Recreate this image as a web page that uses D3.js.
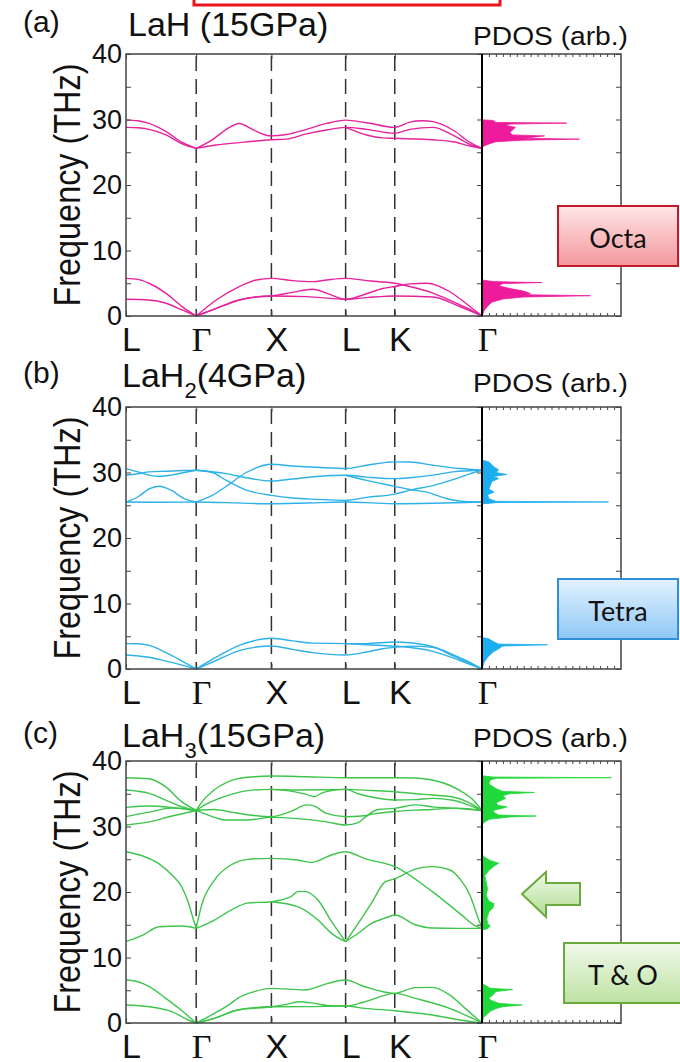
<!DOCTYPE html>
<html lang="en">
<head>
<meta charset="UTF-8">
<title>Phonon bands LaH / LaH2 / LaH3</title>
<style>
  body { margin: 0; background: #fff; }
  svg text { font-family: "Liberation Sans", Arial, sans-serif; fill: #111; }
</style>
</head>
<body>
<div id="chart"></div>
<script src="https://d3js.org/d3.v7.min.js"></script>
<script>
// ---- data ----
var kTicks = [0, 0.70, 1.45, 2.19, 2.68, 3.55];
var kLabels = ["L", "Γ", "X", "L", "K", "Γ"];
var freqTicks = [0, 10, 20, 30, 40];
var panelLetters = ["(a)", "(b)", "(c)"];
var titleMain = ["LaH", "LaH", "LaH"];
var titleSub = ["", "2", "3"];
var titleRest = [" (15GPa)", "(4GPa)", "(15GPa)"];
var siteLabels = ["Octa", "Tetra", "T & O"];

// phonon branches, [k, THz]
var bandsA = [
  [[0,29.9],[0.12,29.8],[0.23,29.4],[0.40,28.15],[0.56,26.5],[0.70,25.6]],
  [[0,28.8],[0.12,28.75],[0.23,28.5],[0.40,27.64],[0.56,26.3],[0.70,25.6]],
  [[0.70,25.6],[0.86,26.9],[1.00,28.5],[1.13,29.4],[1.26,28.5],[1.40,27.6],[1.45,27.5],[1.60,27.7],[1.80,28.5],[2.00,29.4],[2.19,29.9],[2.40,29.5],[2.68,28.8],[2.83,29.6],[2.95,29.8],[3.06,29.67],[3.26,28.4],[3.43,26.5],[3.55,25.6]],
  [[0.70,25.6],[0.90,26.1],[1.13,26.47],[1.45,26.9],[1.60,27.0],[1.80,27.8],[2.00,28.4],[2.19,28.8],[2.40,28.5],[2.68,27.9],[2.83,28.5],[3.06,28.8],[3.26,27.6],[3.43,26.2],[3.55,25.6]],
  [[2.19,28.8],[2.40,27.64],[2.56,27.2],[2.68,27.13],[3.06,26.9],[3.26,26.6],[3.43,25.96],[3.55,25.6]],
  [[0,5.75],[0.12,5.6],[0.23,5.0],[0.40,3.46],[0.56,1.43],[0.70,0]],
  [[0,2.55],[0.23,2.45],[0.40,1.94],[0.56,0.92],[0.70,0]],
  [[0.70,0],[0.90,2.45],[1.13,4.48],[1.30,5.5],[1.45,5.75],[1.66,5.4],[1.86,5.25],[2.00,5.5],[2.19,5.75],[2.40,5.4],[2.68,5.0],[2.83,4.5],[3.06,3.5],[3.26,2.2],[3.43,1.0],[3.55,0]],
  [[0.70,0],[0.90,1.17],[1.13,2.45],[1.30,2.9],[1.45,3.06],[1.66,3.6],[1.86,4.08],[2.00,3.5],[2.19,2.55],[2.40,3.4],[2.56,4.2],[2.68,4.5],[2.83,4.9],[3.00,5.0],[3.23,3.7],[3.40,1.8],[3.55,0]],
  [[0.70,0],[0.90,1.17],[1.13,2.45],[1.45,3.06],[1.80,2.96],[2.19,2.55],[2.40,2.8],[2.68,3.06],[3.06,2.9],[3.33,1.45],[3.55,0]]
];

var bandsB = [
  [[0,30.6],[0.12,30.1],[0.23,29.6],[0.33,29.4],[0.45,29.6],[0.58,30.0],[0.70,30.34]],
  [[0,29.58],[0.12,29.8],[0.23,30.1],[0.40,30.2],[0.56,30.3],[0.70,30.34]],
  [[0,25.49],[0.12,26.3],[0.23,27.5],[0.33,27.9],[0.45,27.3],[0.58,26.0],[0.70,25.49]],
  [[0,25.49],[0.35,25.45],[0.70,25.49]],
  [[0.70,25.49],[0.86,26.5],[1.00,27.9],[1.20,30.0],[1.45,31.26],[1.66,31.0],[1.90,30.8],[2.19,30.6],[2.40,31.1],[2.60,31.55],[2.68,31.62],[2.83,31.6],[3.06,31.1],[3.33,30.6],[3.55,30.34]],
  [[0.70,30.34],[0.86,30.0],[1.00,28.8],[1.20,27.3],[1.45,26.51],[1.66,26.1],[1.90,25.9],[2.19,25.74],[2.40,26.2],[2.68,26.7],[2.83,27.3],[3.06,28.0],[3.26,28.9],[3.43,29.8],[3.55,30.34]],
  [[0.70,30.34],[1.00,29.83],[1.20,29.2],[1.45,28.7],[1.66,29.0],[1.90,29.4],[2.19,29.58],[2.40,29.3],[2.68,29.06],[2.83,29.2],[3.06,29.6],[3.26,30.1],[3.55,30.34]],
  [[2.19,29.58],[2.40,28.8],[2.68,27.89],[2.83,27.4],[3.00,27.0],[3.20,26.0],[3.40,25.55],[3.55,25.49]],
  [[0.70,25.49],[1.00,25.4],[1.45,25.23],[1.80,25.35],[2.19,25.49],[2.40,25.4],[2.68,25.23],[3.06,25.3],[3.55,25.49]],
  [[0,3.88],[0.12,3.85],[0.23,3.6],[0.40,2.5],[0.56,1.2],[0.70,0]],
  [[0,2.14],[0.12,2.0],[0.23,1.8],[0.40,1.2],[0.56,0.6],[0.70,0]],
  [[0.70,0],[0.90,1.8],[1.13,3.6],[1.30,4.4],[1.45,4.70],[1.66,4.3],[1.86,3.95],[2.19,3.88],[2.40,3.88],[2.68,4.13],[2.83,4.0],[3.06,3.4],[3.26,2.2],[3.43,1.0],[3.55,0]],
  [[0.70,0],[0.90,1.3],[1.13,2.8],[1.30,3.35],[1.45,3.52],[1.66,3.0],[1.86,2.5],[2.19,2.14],[2.40,2.6],[2.56,3.1],[2.68,3.3],[2.83,3.5],[3.06,3.3],[3.26,2.0],[3.43,0.9],[3.55,0]],
  [[2.19,3.88],[2.40,3.7],[2.68,3.5],[3.06,2.7],[3.33,1.3],[3.55,0]]
];

var bandsC = [
  [[0,37.45],[0.232,37.3],[0.394,36.08],[0.555,33.79],[0.70,32.45]],
  [[0,35.57],[0.232,35.06],[0.394,34.04],[0.555,33.02],[0.70,32.45]],
  [[0,31.5],[0.232,32.2],[0.458,32.8],[0.70,32.45]],
  [[0,32.92],[0.232,33.13],[0.458,32.9],[0.70,32.45]],
  [[0,30.23],[0.232,30.7],[0.458,31.6],[0.70,32.45]],
  [[0.70,32.45],[0.75,33.6],[0.882,35.6],[1.00,36.7],[1.113,37.3],[1.278,37.6],[1.45,37.71],[1.80,37.6],[2.19,37.45],[2.45,37.45],[2.68,37.45],[2.885,37.4],[3.055,37.1],[3.226,36.3],[3.328,35.5],[3.465,34.0],[3.55,32.45]],
  [[0.70,32.45],[0.80,33.4],[0.981,34.55],[1.212,35.47],[1.45,35.67],[1.712,35.57],[2.00,35.6],[2.19,35.67],[2.45,35.5],[2.68,35.31],[2.885,35.0],[3.055,34.8],[3.26,34.5],[3.40,33.8],[3.55,32.45]],
  [[1.45,35.67],[1.645,35.4],[1.80,34.9],[1.88,34.55],[1.95,35.1],[2.05,35.5],[2.19,35.67],[2.316,35.0],[2.448,34.5],[2.68,34.04],[2.885,34.1],[3.055,34.3],[3.26,34.0],[3.43,33.2],[3.55,32.45]],
  [[0.70,32.45],[0.882,32.6],[1.047,32.2],[1.212,31.8],[1.45,31.5],[1.645,32.3],[1.80,33.3],[1.88,33.1],[2.00,32.0],[2.19,31.5],[2.35,31.6],[2.50,32.0],[2.68,32.3],[2.885,32.5],[3.055,32.6],[3.30,32.8],[3.55,32.45]],
  [[0.70,32.45],[0.882,31.4],[0.981,31.0],[1.212,31.0],[1.45,31.4],[1.712,31.2],[2.00,30.7],[2.19,30.23],[2.316,30.6],[2.382,31.4],[2.514,32.6],[2.68,32.77],[2.885,33.3],[3.055,33.0],[3.26,32.8],[3.55,32.45]],
  [[0,26.15],[0.168,25.5],[0.329,24.3],[0.458,22.6],[0.555,20.8],[0.619,18.5],[0.668,16.0],[0.70,14.45]],
  [[0,12.41],[0.168,13.4],[0.329,14.7],[0.555,14.8],[0.70,14.45]],
  [[0.70,14.45],[0.75,17.76],[0.882,21.83],[1.047,24.12],[1.212,24.98],[1.45,25.14],[1.712,24.88],[1.847,24.53],[2.049,25.65],[2.19,26.15],[2.382,25.1],[2.68,23.87],[3.055,20.05],[3.328,16.74],[3.499,14.7],[3.55,14.45]],
  [[0.70,14.45],[0.882,15.72],[1.047,17.25],[1.212,18.3],[1.45,18.52],[1.645,19.28],[1.712,20.05],[1.78,20.1],[1.914,18.78],[2.049,15.5],[2.19,12.41]],
  [[1.45,18.52],[1.712,17.76],[1.914,15.72],[2.049,13.69],[2.19,12.41]],
  [[2.19,12.41],[2.316,15.2],[2.448,18.3],[2.581,21.5],[2.68,22.0],[2.885,23.5],[3.055,23.87],[3.226,23.4],[3.33,22.0],[3.43,19.5],[3.50,16.5],[3.55,14.45]],
  [[2.19,12.41],[2.316,13.7],[2.448,15.2],[2.581,16.0],[2.68,16.49],[2.885,15.0],[3.055,14.5],[3.30,14.45],[3.55,14.45]],
  [[0,6.56],[0.12,6.3],[0.232,5.54],[0.394,3.8],[0.555,1.9],[0.70,0]],
  [[0,2.75],[0.232,2.49],[0.458,1.73],[0.619,0.46],[0.70,0]],
  [[0.70,0],[0.882,1.47],[1.047,3.0],[1.113,3.76],[1.278,4.78],[1.45,5.29],[1.78,5.04],[2.015,6.05],[2.19,6.56],[2.382,5.54],[2.68,4.53],[2.885,5.4],[3.055,5.44],[3.226,4.3],[3.40,2.0],[3.55,0]],
  [[0.70,0],[0.882,0.71],[1.113,1.98],[1.45,2.49],[1.645,3.0],[1.712,3.25],[1.88,3.0],[2.049,2.6],[2.19,2.59],[2.382,3.25],[2.68,4.53],[2.885,3.76],[3.226,2.24],[3.55,0]],
  [[0.70,0],[0.882,0.71],[1.113,1.98],[1.45,2.49],[1.80,2.5],[2.19,2.59],[2.382,2.24],[2.68,1.88],[3.055,1.22],[3.328,0.46],[3.55,0]]
];

// projected DOS, [THz, arb.]
var pdosA = [
  [[0,0],[0.8,0.015],[1.5,0.04],[2.1,0.07],[2.6,0.15],[2.9,0.3],[3.1,0.78],[3.25,0.3],[3.4,0.35],[3.8,0.3],[4.2,0.2],[4.6,0.12],[4.95,0.15],[5.1,0.43],[5.25,0.08],[5.5,0]],
  [[25.8,0],[26.2,0.04],[26.6,0.1],[26.85,0.3],[27.0,0.70],[27.15,0.3],[27.5,0.45],[27.65,0.22],[28.0,0.2],[28.4,0.22],[28.8,0.24],[29.1,0.17],[29.3,0.2],[29.45,0.61],[29.55,0.1],[29.85,0.08],[29.95,0]]
];
var pdosB = [
  [[0,0],[1.0,0.015],[1.8,0.04],[2.6,0.08],[3.1,0.12],[3.5,0.15],[3.7,0.47],[3.8,0.12],[4.2,0.08],[4.6,0.05],[4.8,0]],
  [[25.2,0],[25.4,0.1],[25.5,0.91],[25.6,0.1],[26.0,0.05],[26.6,0.04],[27.0,0.087],[27.5,0.05],[28.0,0.06],[28.6,0.07],[29.1,0.12],[29.4,0.08],[29.7,0.18],[30.0,0.10],[30.4,0.12],[30.8,0.09],[31.2,0.07],[31.6,0.05],[31.9,0]]
];
var pdosC = [
  [[0,0],[0.8,0.01],[1.2,0.03],[1.8,0.06],[2.2,0.1],[2.5,0.15],[2.75,0.29],[3.0,0.12],[3.5,0.06],[3.8,0.05],[4.3,0.08],[4.8,0.1],[5.1,0.22],[5.3,0.06],[5.8,0.02],[6.0,0]],
  [[14.2,0],[14.4,0.04],[14.8,0.06],[15.2,0.04],[16.0,0.035],[17.0,0.05],[17.6,0.08],[18.2,0.087],[18.6,0.05],[19.5,0.03],[20.5,0.04],[21.5,0.03],[22.5,0.02],[23.3,0.05],[24.0,0.09],[24.4,0.12],[24.8,0.06],[25.3,0.02],[25.7,0]],
  [[30.4,0],[30.8,0.03],[31.1,0.05],[31.45,0.2],[31.6,0.39],[31.75,0.12],[32.2,0.08],[32.5,0.087],[32.8,0.15],[33.0,0.18],[33.2,0.12],[33.6,0.1],[34.0,0.14],[34.3,0.171],[34.7,0.147],[35.0,0.2],[35.2,0.377],[35.35,0.15],[35.8,0.099],[36.5,0.05],[37.1,0.06],[37.35,0.1],[37.45,0.93],[37.55,0.08],[37.75,0]]
];

// ---- layout ----
var W = 680, H = 1062;
var bandLeft = 126, divX = 482, pdRight = 621, panelH = 262;
var panels = [
  {top: 54,  bands: bandsA, pdos: pdosA, line: "#e5229d", fill: "#ee1c9c", titleY: 36,  pdosY: 45},
  {top: 407, bands: bandsB, pdos: pdosB, line: "#2cb1e8", fill: "#1cadee", titleY: 387, pdosY: 392},
  {top: 761, bands: bandsC, pdos: pdosC, line: "#3dc54b", fill: "#1fd83a", titleY: 747, pdosY: 747}
];

var svg = d3.select("#chart").append("svg")
    .attr("width", W).attr("height", H);

var defs = svg.append("defs");
function grad(id, c0, c1) {
  var g = defs.append("linearGradient").attr("id", id)
      .attr("x1", 0).attr("y1", 0).attr("x2", 0).attr("y2", 1);
  g.append("stop").attr("offset", "0%").attr("stop-color", c0);
  g.append("stop").attr("offset", "100%").attr("stop-color", c1);
}
grad("gOcta", "#ffe6e7", "#f3979c");
grad("gTetra", "#e4f2ff", "#8ec8f4");
grad("gTO", "#f1f9ea", "#bde2a2");
grad("gArrow", "#eef8e6", "#b3dd95");

// red box cut at the top
svg.append("rect")
    .attr("x", 194).attr("y", -12).attr("width", 306).attr("height", 17)
    .attr("fill", "none").attr("stroke", "#e8141c").attr("stroke-width", 3);

var x = d3.scaleLinear().domain([0, 3.55]).range([bandLeft, divX]);
var pdx = d3.scaleLinear().domain([0, 1]).range([divX, pdRight]);

panels.forEach(function(p, i) {
  var y = d3.scaleLinear().domain([0, 40]).range([p.top + panelH, p.top]);
  var g = svg.append("g");

  // letters and titles
  g.append("text").attr("x", 23).attr("y", p.titleY - 4)
      .style("font-size", "30px").text(panelLetters[i]);
  var t = g.append("text").attr("x", i === 0 ? 128 : 122).attr("y", p.titleY)
      .style("font-size", "34px");
  t.append("tspan").text(titleMain[i]);
  if (titleSub[i]) t.append("tspan").attr("dy", 11).style("font-size", "22px").text(titleSub[i]);
  t.append("tspan").attr("dy", titleSub[i] ? -11 : 0).text(titleRest[i]);

  g.append("text").attr("x", 473).attr("y", p.pdosY)
      .attr("textLength", 155).attr("lengthAdjust", "spacingAndGlyphs")
      .style("font-size", "25px").text("PDOS (arb.)");

  // y label
  g.append("text")
      .attr("transform", "translate(80," + (p.top + panelH / 2) + ") rotate(-90)")
      .attr("text-anchor", "middle")
      .attr("textLength", 243).attr("lengthAdjust", "spacingAndGlyphs")
      .style("font-size", "37px").text("Frequency (THz)");

  // dashed high-symmetry lines
  g.selectAll(".sym").data(kTicks.slice(1, -1)).enter().append("line")
      .attr("x1", d => x(d)).attr("x2", d => x(d))
      .attr("y1", p.top + 2).attr("y2", p.top + panelH)
      .attr("stroke", "#333").attr("stroke-width", 1.5)
      .attr("stroke-dasharray", "15,8");

  // bands
  var line = d3.line().x(d => x(d[0])).y(d => y(d[1])).curve(d3.curveMonotoneX);
  g.selectAll(".band").data(p.bands).enter().append("path")
      .attr("d", line).attr("fill", "none")
      .attr("stroke", p.line).attr("stroke-width", 1.4);

  // pdos
  var area = d3.area().y(d => y(d[0])).x0(pdx(0)).x1(d => pdx(d[1]));
  g.selectAll(".dos").data(p.pdos).enter().append("path")
      .attr("d", area).attr("fill", p.fill).attr("stroke", p.fill).attr("stroke-width", 0.8);

  // axes
  var left = g.append("g").attr("transform", "translate(" + bandLeft + ",0)")
      .call(d3.axisLeft(y).tickValues(d3.range(0, 41, 5)).tickSize(-5).tickPadding(4)
        .tickFormat(d => freqTicks.indexOf(d) >= 0 ? d : ""));
  left.select(".domain").remove();
  left.selectAll("line").attr("stroke", "#444");
  left.selectAll("text").style("font-size", "27px").attr("font-family", null);

  [divX, pdRight].forEach(function(px) {
    var r = g.append("g").attr("transform", "translate(" + px + ",0)")
        .call(d3.axisRight(y).tickValues(d3.range(0, 41, 5)).tickSize(-5).tickFormat(""));
    r.select(".domain").remove();
    r.selectAll("line").attr("stroke", "#444");
  });

  var top = g.append("g").attr("transform", "translate(0," + p.top + ")")
      .call(d3.axisTop(x).tickValues(kTicks).tickSize(-5).tickFormat(""));
  top.select(".domain").remove();
  top.selectAll("line").attr("stroke", "#444");

  var bot = g.append("g").attr("transform", "translate(0," + (p.top + panelH) + ")")
      .call(d3.axisBottom(x).tickValues(kTicks).tickSize(-5).tickPadding(11)
        .tickFormat((d, j) => kLabels[j]));
  bot.select(".domain").remove();
  bot.selectAll("line").attr("stroke", "#444");
  bot.selectAll("text").attr("dx", 5).attr("font-family", null)
      .style("font-size", "34px")
      .style("font-family", (d, j) => kLabels[j] === "Γ" ? "'Liberation Serif', serif" : null);

  [p.top, p.top + panelH].forEach(function(py, j) {
    var a = j === 0 ? d3.axisTop(pdx) : d3.axisBottom(pdx);
    var pg = g.append("g").attr("transform", "translate(0," + py + ")")
        .call(a.tickValues(d3.range(0.05, 1, 0.05)).tickSize(-3).tickFormat(""));
    pg.select(".domain").remove();
    pg.selectAll("line").attr("stroke", "#444");
  });

  // frames
  g.append("path")
      .attr("d", "M" + divX + "," + p.top + "H" + bandLeft + "V" + (p.top + panelH) + "H" + divX)
      .attr("fill", "none").attr("stroke", "#444").attr("stroke-width", 1.5);
  g.append("path")
      .attr("d", "M" + divX + "," + p.top + "H" + pdRight + "V" + (p.top + panelH) + "H" + divX)
      .attr("fill", "none").attr("stroke", "#444").attr("stroke-width", 1.5);
  g.append("line").attr("x1", divX).attr("x2", divX)
      .attr("y1", p.top).attr("y2", p.top + panelH)
      .attr("stroke", "#000").attr("stroke-width", 2);
});

// site boxes
var boxes = [
  {x: 558, y: 206, w: 120, h: 60, fill: "url(#gOcta)", stroke: "#c01b2b"},
  {x: 558, y: 579, w: 120, h: 60, fill: "url(#gTetra)", stroke: "#2f8fd8"},
  {x: 564, y: 943, w: 118, h: 60, fill: "url(#gTO)", stroke: "#6aab3b"}
];
boxes.forEach(function(b, i) {
  svg.append("rect").attr("x", b.x).attr("y", b.y).attr("width", b.w).attr("height", b.h)
      .attr("fill", b.fill).attr("stroke", b.stroke).attr("stroke-width", 2);
  svg.append("text").attr("x", i === 2 ? 623 : 618).attr("y", b.y + b.h / 2 + 1)
      .attr("text-anchor", "middle").attr("dominant-baseline", "central")
      .style("font-family", "Lato, 'Open Sans', sans-serif").style("font-size", "27px")
      .text(siteLabels[i]);
});

// arrow pointing at the T & O hydrogen modes
svg.append("polygon")
    .attr("points", [[522,894],[546,872],[546,883],[580,883],[580,905],[546,905],[546,917]].join(" "))
    .attr("fill", "url(#gArrow)").attr("stroke", "#6aab3b").attr("stroke-width", 2);
</script>
</body>
</html>
